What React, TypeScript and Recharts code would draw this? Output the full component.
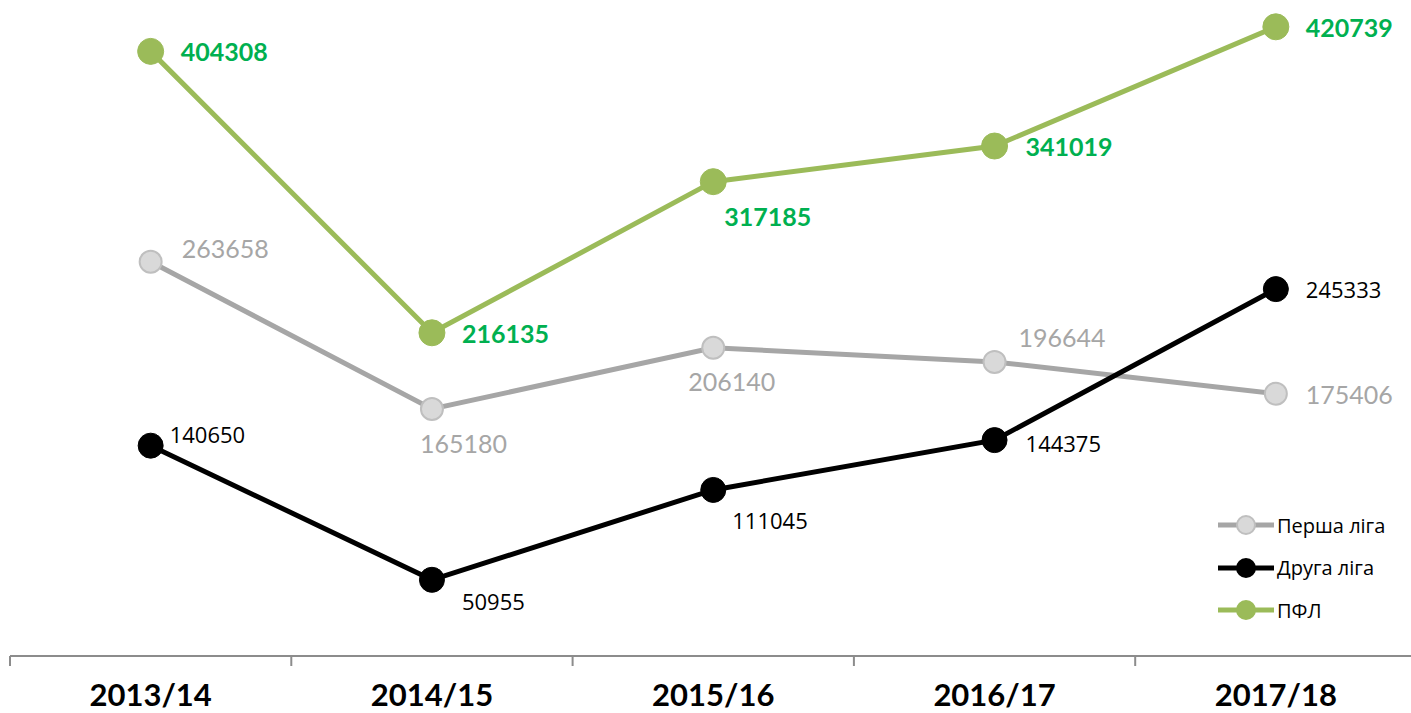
import React from "react";
import { LineChart, Line, XAxis, YAxis, LabelList } from "recharts";

// seasons on the x axis
const seasons = ["2013/14", "2014/15", "2015/16", "2016/17", "2017/18"];

// attendance per league
const pershaLiga = [263658, 165180, 206140, 196644, 175406];
const druhaLiga = [140650, 50955, 111045, 144375, 245333];
const pfl = [404308, 216135, 317185, 341019, 420739];

// category boundaries (tick marks sit between seasons, like Excel)
const boundaryTicks = [-0.5, 0.5, 1.5, 2.5, 3.5, 4.5];
const centerTicks = [0, 1, 2, 3, 4];

// label placement per point: [dx, dy] from the marker centre
const pershaOffsets = [[31, -14], [-12, 34], [-25, 33], [24, -25], [30, 0]];
const druhaOffsets = [[19, -12], [30, 21], [19, 30], [31, 3], [30, 0]];
const pflOffsets = [[30, 0], [30, 0], [11, 34], [31, 0], [30, 0]];

const data = seasons.map((season, i) => ({
  i,
  season,
  persha: pershaLiga[i],
  druha: druhaLiga[i],
  pfl: pfl[i],
}));

const makeLabel = (offsets: number[][], color: string, font: string, size: number, weight: number) =>
  (props: any) => {
    const { x, y, value, index } = props;
    const [dx, dy] = offsets[index];
    return (
      <text
        x={x + dx}
        y={y + dy}
        fill={color}
        fontFamily={font}
        fontSize={size}
        fontWeight={weight}
        textAnchor="start"
        dominantBaseline="central"
      >
        {value}
      </text>
    );
  };

const legendItems = [
  { name: "Перша ліга", line: "#A6A6A6", fill: "#D9D9D9", stroke: "#BFBFBF" },
  { name: "Друга ліга", line: "#000000", fill: "#000000", stroke: "#000000" },
  { name: "ПФЛ", line: "#9BBB59", fill: "#9BBB59", stroke: "#9BBB59" },
];

export default function App() {
  return (
    <div
      style={{
        position: "absolute",
        left: 0,
        top: 0,
        width: 1411,
        height: 713,
        overflow: "hidden",
        background: "#fff",
      }}
    >
      <LineChart
        width={1420}
        height={713}
        data={data}
        margin={{ top: 1, right: 3.5, bottom: 0, left: 10 }}
      >
        <XAxis
          xAxisId="grid"
          dataKey="i"
          type="number"
          domain={[-0.5, 4.5]}
          ticks={boundaryTicks}
          tickFormatter={() => ""}
          height={10}
          tickSize={10}
          axisLine={{ stroke: "#8C8C8C", strokeWidth: 2 }}
          tickLine={{ stroke: "#8C8C8C", strokeWidth: 2 }}
        />
        <XAxis
          xAxisId="labels"
          dataKey="i"
          type="number"
          domain={[-0.5, 4.5]}
          ticks={centerTicks}
          tickFormatter={(v: number) => seasons[v]}
          height={47}
          tickSize={0}
          tickMargin={18}
          axisLine={false}
          tickLine={false}
          tick={{ fill: "#000", fontFamily: "Lato", fontWeight: 700, fontSize: 31 }}
        />
        <YAxis hide domain={[0, 438000]} />

        <Line
          xAxisId="grid"
          dataKey="persha"
          stroke="#A6A6A6"
          strokeWidth={5}
          dot={{ r: 11, fill: "#D9D9D9", stroke: "#BFBFBF", strokeWidth: 2 }}
          isAnimationActive={false}
        >
          <LabelList dataKey="persha" content={makeLabel(pershaOffsets, "#A6A6A6", "Lato", 25, 400)} />
        </Line>
        <Line
          xAxisId="grid"
          dataKey="druha"
          stroke="#000000"
          strokeWidth={5}
          dot={{ r: 12.5, fill: "#000", stroke: "#000", strokeWidth: 1 }}
          isAnimationActive={false}
        >
          <LabelList dataKey="druha" content={makeLabel(druhaOffsets, "#000", "Open Sans", 22, 400)} />
        </Line>
        <Line
          xAxisId="grid"
          dataKey="pfl"
          stroke="#9BBB59"
          strokeWidth={5}
          dot={{ r: 13, fill: "#9BBB59", stroke: "#9BBB59", strokeWidth: 1 }}
          isAnimationActive={false}
        >
          <LabelList dataKey="pfl" content={makeLabel(pflOffsets, "#00B050", "Lato", 25, 700)} />
        </Line>
      </LineChart>

      <div style={{ position: "absolute", left: 1216, top: 504 }}>
        {legendItems.map((it) => (
          <div key={it.name} style={{ display: "flex", alignItems: "center", height: 42.5 }}>
            <svg width={60} height={26}>
              <line x1={2} y1={13} x2={58} y2={13} stroke={it.line} strokeWidth={5} />
              <circle cx={30} cy={13} r={9} fill={it.fill} stroke={it.stroke} strokeWidth={2} />
            </svg>
            <span style={{ fontFamily: "Open Sans", fontSize: 20, color: "#000", marginLeft: 1 }}>
              {it.name}
            </span>
          </div>
        ))}
      </div>
    </div>
  );
}
